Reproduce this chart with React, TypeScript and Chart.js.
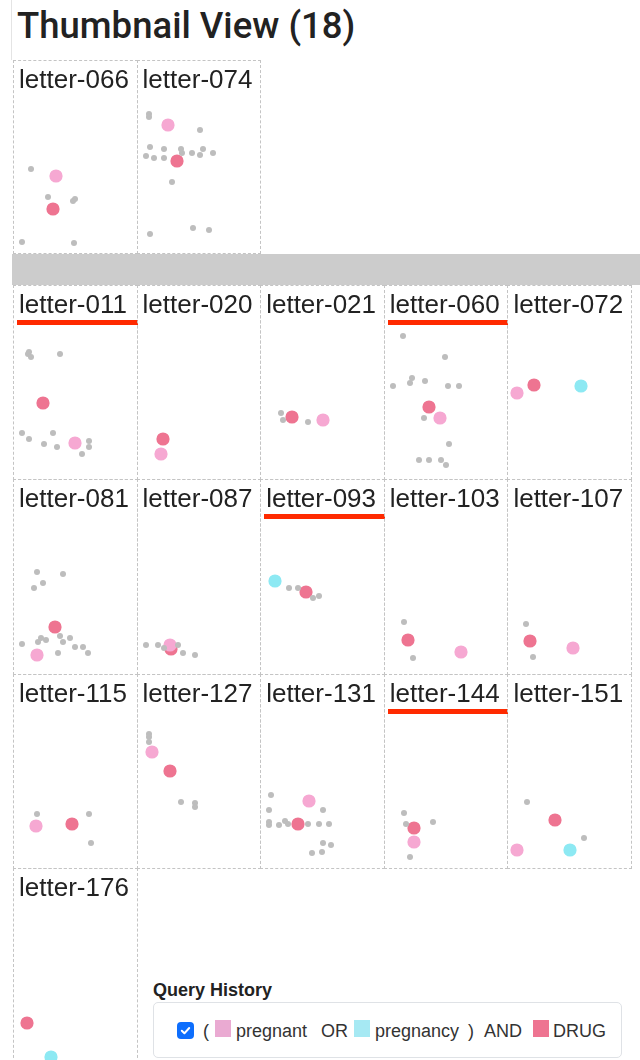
import React, { useEffect, useRef } from "react";
import { Chart, registerables } from "chart.js";

Chart.register(...registerables);

type Pt = [number, number];

// ---- data (positions inside each thumbnail, x: 0..124, y: 0..194 from top) ----
const letters = [
  "letter-066", "letter-074",
  "letter-011", "letter-020", "letter-021", "letter-060", "letter-072",
  "letter-081", "letter-087", "letter-093", "letter-103", "letter-107",
  "letter-115", "letter-127", "letter-131", "letter-144", "letter-151",
  "letter-176",
];
const groupSizes = [2, 16];
const flaggedLetters = ["letter-011", "letter-060", "letter-093", "letter-144"];

const otherTerms: Pt[][] = [
  [[18, 109], [35, 137], [60, 141], [62, 139], [9, 182], [61, 183]],
  [[12, 54], [12, 57], [63, 70], [13, 87], [27, 89], [44, 89], [45, 93], [55, 93], [63, 95], [66, 89], [76, 93], [9, 96], [17, 98], [27, 98], [35, 122], [56, 168], [72, 170], [13, 174]],
  [[16, 67], [18, 72], [15, 69], [47, 69], [9, 148], [16, 154], [40, 148], [31, 159], [44, 162], [76, 156], [76, 162], [69, 169]],
  [],
  [[21, 128], [23, 135], [48, 137]],
  [[19, 51], [61, 72], [28, 93], [26, 98], [41, 96], [9, 101], [64, 101], [75, 101], [40, 133], [65, 159], [35, 175], [45, 175], [57, 175], [62, 180]],
  [],
  [[24, 93], [50, 95], [30, 104], [21, 109], [28, 159], [33, 161], [25, 163], [47, 157], [50, 163], [57, 159], [62, 168], [70, 168], [75, 174], [9, 165], [45, 174]],
  [[9, 166], [21, 166], [41, 166], [27, 169], [46, 174], [58, 176]],
  [[29, 109], [38, 109], [53, 119], [59, 117]],
  [[20, 143], [29, 179]],
  [[19, 145], [26, 178]],
  [[24, 140], [76, 140], [78, 169]],
  [[12, 60], [12, 63], [12, 68], [44, 128], [58, 129], [58, 133]],
  [[11, 121], [9, 136], [63, 136], [9, 148], [9, 151], [19, 151], [25, 147], [28, 150], [48, 150], [59, 150], [69, 150], [63, 169], [71, 171], [52, 179], [62, 178]],
  [[20, 139], [22, 150], [49, 148], [26, 183]],
  [[20, 128], [77, 164]],
  [],
];

const pregnantHits: Pt[][] = [
  [[43, 116]], [[31, 65]], [[62, 158]], [[24, 169]], [[63, 135]], [[56, 133]], [[10, 108]],
  [[24, 176]], [[33, 166]], [], [[77, 173]], [[66, 169]],
  [[23, 152]], [[15, 78]], [[49, 127]], [[30, 168]], [[10, 176]],
  [],
];

const pregnancyHits: Pt[][] = [
  [], [], [], [], [], [], [[74, 101]],
  [], [], [[15, 102]], [], [],
  [], [], [], [], [[63, 176]],
  [[38, 189]],
];

const drugHits: Pt[][] = [
  [[40, 149]], [[40, 101]], [[30, 118]], [[26, 154]], [[32, 132]], [[45, 122]], [[27, 100]],
  [[42, 148]], [[34, 170]], [[46, 113]], [[24, 161]], [[23, 162]],
  [[59, 150]], [[33, 97]], [[38, 150]], [[30, 154]], [[48, 146]],
  [[14, 155]],
];

const queryTerms = ["pregnant", "pregnancy", "DRUG"];

// ---- style ----
const GRAY = "#bdbdbd";
const PINK = "#f6a8d2";
const CYAN = "#8de9f3";
const RED = "#ee7491";
const FONT = "'Liberation Sans', Arial, sans-serif";

const GRID_LEFT = 13;
const CELL_W = 123.6;
const ROW_STEP = 194.3;
const GROUP_TOPS = [60, 285];
const CANVAS_W = 124;
const CANVAS_H = 194;

const toXY = (pts: Pt[]) => pts.map(([x, y]) => ({ x, y }));

function Thumb({ index, left, top, height }: { index: number; left: number; top: number; height: number }) {
  const ref = useRef<HTMLCanvasElement | null>(null);
  useEffect(() => {
    if (!ref.current) return;
    const ds = (pts: Pt[], color: string, r: number) => ({
      data: toXY(pts),
      backgroundColor: color,
      borderWidth: 0,
      pointRadius: r,
      pointHoverRadius: r,
      clip: false as any,
    });
    const chart = new Chart(ref.current, {
      type: "scatter",
      data: {
        datasets: [
          ds(otherTerms[index], GRAY, 3),
          ds(pregnantHits[index], PINK, 6.6),
          ds(pregnancyHits[index], CYAN, 6.6),
          ds(drugHits[index], RED, 6.6),
        ],
      },
      options: {
        responsive: false,
        animation: false,
        events: [],
        layout: { padding: 0, autoPadding: false },
        plugins: { legend: { display: false }, tooltip: { enabled: false } },
        scales: {
          x: { type: "linear", display: false, min: 0, max: CANVAS_W },
          y: { type: "linear", display: false, min: 0, max: CANVAS_H, reverse: true },
        },
      },
    });
    return () => chart.destroy();
  }, [index]);

  const name = letters[index];
  const flagged = flaggedLetters.includes(name);
  return (
    <div
      style={{
        position: "absolute",
        left,
        top,
        width: CELL_W + 1,
        height,
        border: "1px dashed #c4c4c4",
        boxSizing: "border-box",
      }}
    >
      <canvas
        ref={ref}
        width={CANVAS_W}
        height={CANVAS_H}
        style={{ position: "absolute", left: -1, top: -1, width: CANVAS_W, height: CANVAS_H, display: "block" }}
      />
      <div
        style={{
          position: "absolute",
          left: 5,
          top: 5,
          fontFamily: FONT,
          fontSize: 26,
          lineHeight: "26px",
          color: "#222",
          whiteSpace: "nowrap",
        }}
      >
        {name}
      </div>
      {flagged && (
        <div style={{ position: "absolute", left: 3, right: -1, top: 34, height: 5, background: "#ff2a00" }} />
      )}
    </div>
  );
}

export default function App() {
  const cells: React.ReactNode[] = [];
  let idx = 0;
  groupSizes.forEach((size, g) => {
    for (let j = 0; j < size; j++) {
      const row = Math.floor(j / 5);
      const col = j % 5;
      const top = GROUP_TOPS[g] + row * ROW_STEP;
      const h = g === 0 ? 194 : ROW_STEP + 1;
      cells.push(<Thumb key={letters[idx]} index={idx} left={GRID_LEFT + col * CELL_W} top={top} height={h} />);
      idx++;
    }
  });

  const text = (s: string, left: number) => (
    <div
      style={{
        position: "absolute",
        left,
        top: 1022,
        fontFamily: FONT,
        fontSize: 18,
        lineHeight: "18px",
        color: "#333",
        whiteSpace: "pre",
      }}
    >
      {s}
    </div>
  );
  const swatch = (color: string, left: number) => (
    <div style={{ position: "absolute", left, top: 1020, width: 16, height: 17, background: color }} />
  );

  return (
    <div style={{ position: "absolute", left: 0, top: 0, width: 640, height: 1060, overflow: "hidden", background: "#fff" }}>
      <div style={{ position: "absolute", left: 11, top: 0, width: 1, height: 60, background: "#e4e4e4" }} />
      <div
        style={{
          position: "absolute",
          left: 17,
          top: 8,
          fontFamily: "Roboto, 'Liberation Sans', sans-serif",
          fontWeight: 500,
          fontSize: 36.5,
          lineHeight: "36px",
          color: "#222",
          whiteSpace: "nowrap",
        }}
      >
        Thumbnail View (18)
      </div>
      <div style={{ position: "absolute", left: 12, top: 254, width: 628, height: 31, background: "#cccccc" }} />
      {cells}

      <div
        style={{
          position: "absolute",
          left: 153,
          top: 981,
          fontFamily: FONT,
          fontWeight: 700,
          fontSize: 18,
          lineHeight: "18px",
          color: "#222",
        }}
      >
        Query History
      </div>
      <div
        style={{
          position: "absolute",
          left: 153,
          top: 1002,
          width: 469,
          height: 56,
          border: "1px solid #dfe2e6",
          borderRadius: 5,
          boxSizing: "border-box",
          background: "#fff",
        }}
      />
      <div
        style={{
          position: "absolute",
          left: 177,
          top: 1022,
          width: 17,
          height: 17,
          borderRadius: 4,
          background: "#0d6efd",
        }}
      >
        <svg width="17" height="17" viewBox="0 0 17 17" style={{ display: "block" }}>
          <path d="M4.8 8.8 L7.4 11.3 L12.2 6" stroke="#fff" strokeWidth="2" fill="none" strokeLinecap="round" strokeLinejoin="round" />
        </svg>
      </div>
      {text("(", 203)}
      {swatch("#eaaad2", 215)}
      {text(queryTerms[0], 236)}
      {text("OR", 321)}
      {swatch("#a6e9f3", 354)}
      {text(queryTerms[1], 375)}
      {text(")", 468)}
      {text("AND", 484)}
      {swatch(RED, 533)}
      {text(queryTerms[2], 553)}
    </div>
  );
}
